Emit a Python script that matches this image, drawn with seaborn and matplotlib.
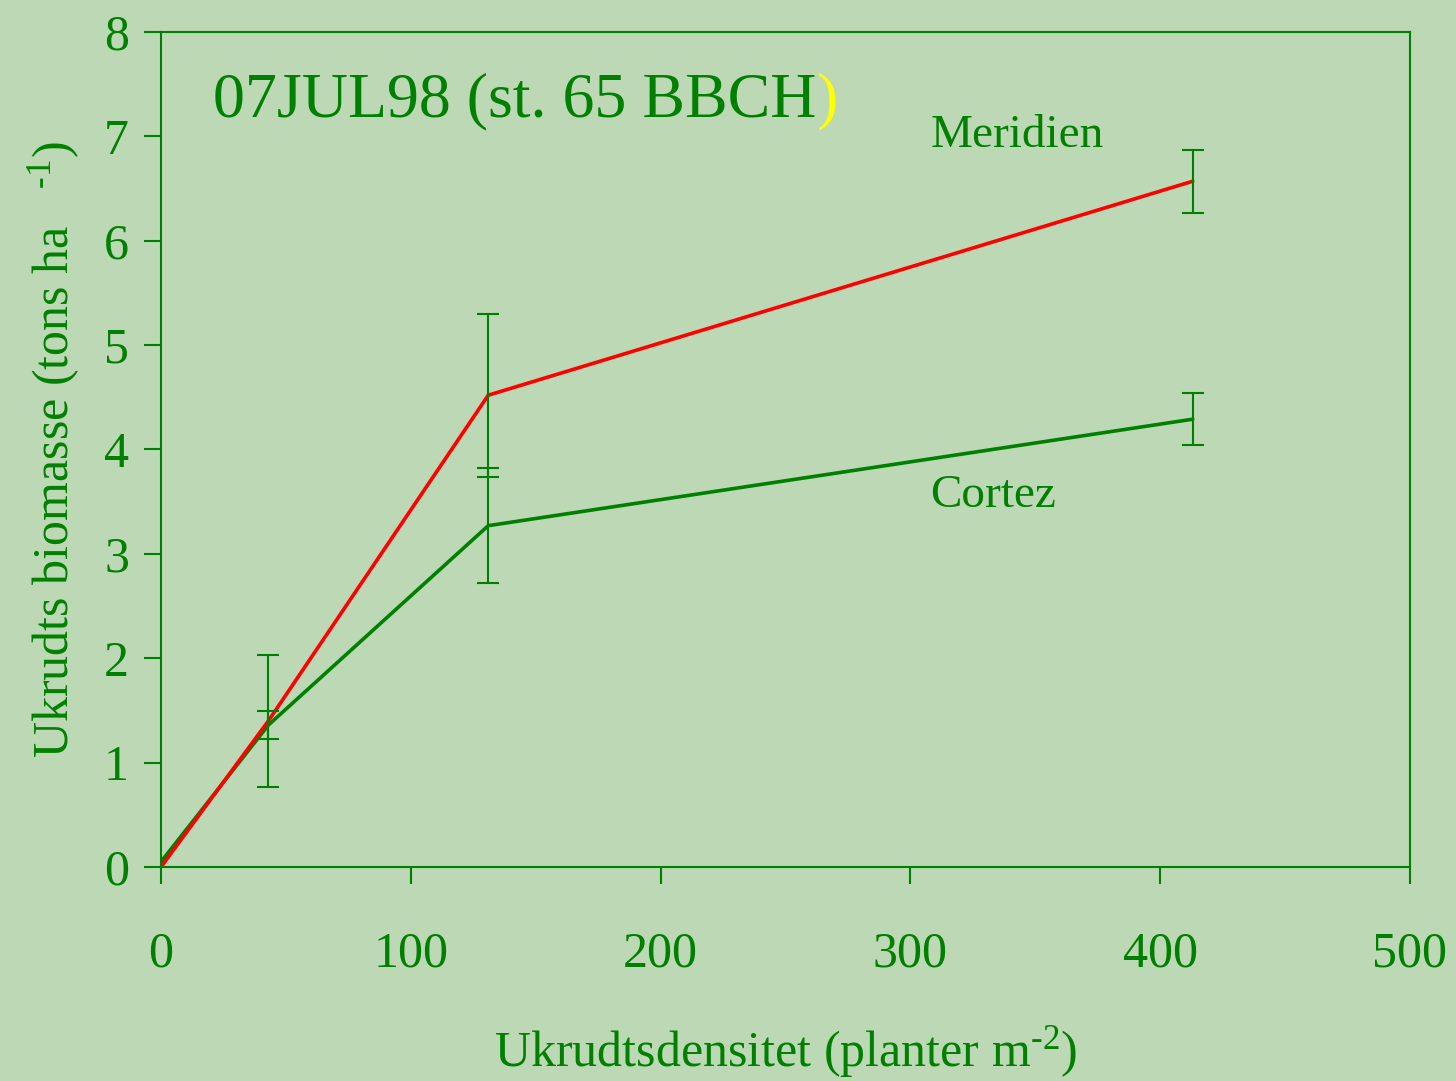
import matplotlib
matplotlib.use("Agg")
import matplotlib.pyplot as plt
import numpy as np
import pandas as pd
import seaborn as sns

# Data
density = [0, 43, 131, 413]
meridien = [0.0, 1.40, 4.52, 6.57]
cortez = [0.05, 1.36, 3.27, 4.29]
meridien_err = [0.0, 0.63, 0.78, 0.30]
cortez_err = [0.0, 0.13, 0.55, 0.25]
x_ticks = [0, 100, 200, 300, 400, 500]
y_ticks = [0, 1, 2, 3, 4, 5, 6, 7, 8]

GREEN = "#008000"
RED = "#ff0000"
BG = "#bcd8b4"

sns.set_style("ticks")
plt.rcParams["font.family"] = ["Liberation Serif", "DejaVu Serif"]
plt.rcParams["mathtext.fontset"] = "custom"
plt.rcParams["mathtext.rm"] = "Liberation Serif"
plt.rcParams["mathtext.it"] = "Liberation Serif:italic"

df = pd.DataFrame({
    "density": density * 2,
    "biomass": meridien + cortez,
    "variety": ["Meridien"] * 4 + ["Cortez"] * 4,
})

fig = plt.figure(figsize=(14.56, 10.81), dpi=100, facecolor=BG)
ax = fig.add_axes([0.1106, 0.198, 0.8578, 0.7724])
ax.set_facecolor(BG)

sns.lineplot(data=df, x="density", y="biomass", hue="variety",
             palette={"Meridien": RED, "Cortez": GREEN},
             hue_order=["Cortez", "Meridien"], linewidth=2.6,
             legend=False, ax=ax)

# error bars (all drawn in green)
for vals, errs in [(meridien, meridien_err), (cortez, cortez_err)]:
    idx = [i for i, e in enumerate(errs) if e > 0]
    ax.errorbar([density[i] for i in idx], [vals[i] for i in idx],
                yerr=[errs[i] for i in idx], fmt="none", ecolor=GREEN,
                elinewidth=1.5, capsize=8, capthick=1.5)

ax.set_xlim(0, 500)
ax.set_ylim(0, 8)
ax.set_xticks(x_ticks)
ax.set_yticks(y_ticks)
for s in ax.spines.values():
    s.set_visible(True)
    s.set_color(GREEN)
    s.set_linewidth(1.5)
ax.tick_params(axis="both", colors=GREEN, labelcolor=GREEN, labelsize=36,
               length=12, width=1.5, direction="out")
ax.tick_params(axis="x", pad=34)
ax.tick_params(axis="y", pad=11)

ax.set_xlabel(r"Ukrudtsdensitet (planter m$^{\text{-2}}$)", fontsize=36,
              color=GREEN)
ax.set_ylabel(r"Ukrudts biomasse (tons ha   $^{\text{-1}}$)", fontsize=36,
              color=GREEN)
ax.xaxis.set_label_coords(0.5, -0.188)
ax.yaxis.set_label_coords(-0.063, 0.5)

title = ax.text(21, 7.33, "07JUL98 (st. 65 BBCH", fontsize=46, color=GREEN,
                ha="left", va="center")
ax.annotate(")", xy=(1, 0), xycoords=title, fontsize=46, color="#ffff00",
            ha="left", va="bottom")
ax.text(308, 7.01, "Meridien", fontsize=34, color=GREEN, ha="left", va="center")
ax.text(308, 3.56, "Cortez", fontsize=34, color=GREEN, ha="left", va="center")

fig.savefig("out.png", dpi=100, facecolor=BG)
